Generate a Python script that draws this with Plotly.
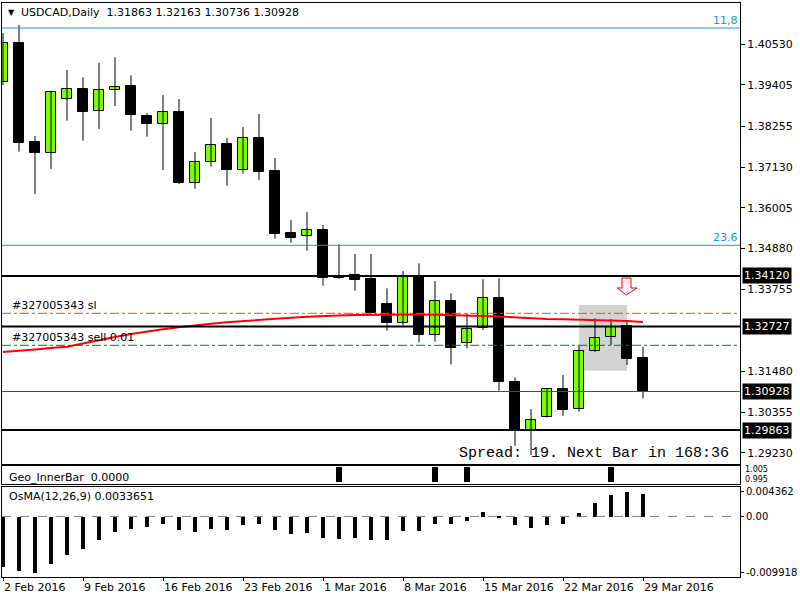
import plotly.graph_objects as go

# ---------------- data ----------------
bars = list(range(41))
date_ticks = [0, 5, 10, 15, 20, 25, 30, 35, 40]
date_labels = ["2 Feb 2016", "9 Feb 2016", "16 Feb 2016", "23 Feb 2016", "1 Mar 2016",
               "8 Mar 2016", "15 Mar 2016", "22 Mar 2016", "29 Mar 2016"]

opens = [1.39472, 1.40549, 1.37822, 1.37527, 1.39002, 1.39278, 1.38679, 1.39251, 1.39361, 1.38532,
         1.38328, 1.38643, 1.36698, 1.37261, 1.37767, 1.37057, 1.37925, 1.37021, 1.35300, 1.35233,
         1.35391, 1.34073, 1.34147, 1.34037, 1.33346, 1.32813, 1.34092, 1.32490, 1.33437, 1.32260,
         1.32675, 1.33504, 1.31183, 1.29837, 1.30224, 1.30998, 1.30445, 1.32048, 1.32426, 1.32747,
         1.31863]
highs = [1.40834, 1.41055, 1.37988, 1.39210, 1.39812, 1.39610, 1.40013, 1.40163, 1.39665, 1.38624,
         1.39121, 1.39010, 1.37546, 1.38485, 1.37933, 1.38237, 1.38596, 1.37380, 1.35667, 1.35888,
         1.35529, 1.35004, 1.34728, 1.34728, 1.33780, 1.34258, 1.34471, 1.33982, 1.33642, 1.33089,
         1.34029, 1.34056, 1.31321, 1.30445, 1.31025, 1.31384, 1.32205, 1.32951, 1.32924, 1.32857,
         1.32163]
lows = [1.39397, 1.37554, 1.36386, 1.37076, 1.38411, 1.37858, 1.38181, 1.38817, 1.38134, 1.37969,
        1.37049, 1.36662, 1.36532, 1.37140, 1.36615, 1.36946, 1.36772, 1.35150, 1.35040, 1.34819,
        1.33852, 1.34037, 1.33714, 1.33084, 1.32609, 1.32752, 1.32288, 1.32305, 1.31680, 1.32122,
        1.32628, 1.30951, 1.29431, 1.29174, 1.30210, 1.30260, 1.30370, 1.32020, 1.32213, 1.31661,
        1.30736]
closes = [1.40549, 1.37803, 1.37527, 1.39196, 1.39278, 1.38659, 1.39259, 1.39350, 1.38577, 1.38320,
          1.38643, 1.36698, 1.37261, 1.37731, 1.37057, 1.37925, 1.37002, 1.35289, 1.35178, 1.35383,
          1.34073, 1.34128, 1.34009, 1.33106, 1.32813, 1.34092, 1.32490, 1.33437, 1.32122, 1.32664,
          1.33504, 1.31183, 1.29837, 1.30133, 1.30998, 1.30426, 1.32048, 1.32399, 1.32719, 1.31818,
          1.30928]
ma = [1.32020, 1.32048, 1.32089, 1.32131, 1.32166, 1.32255, 1.32352, 1.32434, 1.32517, 1.32586,
      1.32647, 1.32702, 1.32758, 1.32799, 1.32841, 1.32876, 1.32904, 1.32937, 1.32968, 1.32995,
      1.33020, 1.33031, 1.33042, 1.33048, 1.33053, 1.33056, 1.33053, 1.33048, 1.33042, 1.33028,
      1.33015, 1.33001, 1.32973, 1.32951, 1.32932, 1.32923, 1.32915, 1.32904, 1.32896, 1.32876,
      1.32849]
osma = [-0.00887, -0.00957, -0.009918, -0.00839, -0.00675, -0.00575, -0.00416, -0.00270, -0.00222, -0.00182,
        -0.00129, -0.00240, -0.00270, -0.00222, -0.00240, -0.00152, -0.00129, -0.00240, -0.00310, -0.00287,
        -0.00381, -0.00398, -0.00381, -0.00416, -0.00416, -0.00257, -0.00257, -0.00129, -0.00129, -0.00069,
        0.00083, -0.00030, -0.00152, -0.00199, -0.00152, -0.00129, 0.00065, 0.00242, 0.00390, 0.0043624,
        0.00400]
inner_bar = [0] * 21 + [1] + [0] * 5 + [1, 0, 1] + [0] * 8 + [1, 0, 0]

price_ticks = [1.40530, 1.39405, 1.38255, 1.37130, 1.36005, 1.34880, 1.33755, 1.31480, 1.30355, 1.29230]
support_levels = [1.34120, 1.32727, 1.29863]
bid_level = 1.30928
highlight_levels = [1.34120, 1.32727, 1.30928, 1.29863]
fib_levels = [("11,8", 1.40972), ("23.6", 1.34968)]
order_id = 327005343
sl_level = 1.33089
entry_level = 1.32205
box_bars = (36, 39)
box_prices = (1.31503, 1.33319)
signal_bar = 39
osma_ticks = [0.0043624, 0.0, -0.009918]
osma_ticktext = ["0.004362", "0.00", "-0.009918"]
geo_scale_labels = ["1.005", "0.995"]
title_text = "USDCAD,Daily  1.31863 1.32163 1.30736 1.30928"

# ---------------- styling ----------------
FONT = "DejaVu Sans"
BULL = "#7CFC00"
XR = [-0.0625, 46.0625]

fig = go.Figure()

# wicks
wx, wy = [], []
for i, h, l in zip(bars, highs, lows):
    wx += [i, i, None]
    wy += [l, h, None]
fig.add_trace(go.Scatter(x=wx, y=wy, mode="lines", line=dict(color="black", width=1),
                         hoverinfo="skip", showlegend=False, xaxis="x", yaxis="y"))
# bodies
fig.add_trace(go.Bar(
    x=bars,
    y=[max(abs(c - o), 0.00002) for o, c in zip(opens, closes)],
    base=[min(o, c) for o, c in zip(opens, closes)],
    width=0.64,
    marker=dict(color=[BULL if c >= o else "black" for o, c in zip(opens, closes)],
                line=dict(color="black", width=1)),
    showlegend=False, xaxis="x", yaxis="y"))
# moving average
fig.add_trace(go.Scatter(x=bars, y=ma, mode="lines", line=dict(color="#FF0000", width=2),
                         showlegend=False, xaxis="x", yaxis="y"))

# Geo_InnerBar
fig.add_trace(go.Bar(x=bars, y=inner_bar, width=0.32, marker=dict(color="black", line=dict(width=0)),
                     showlegend=False, xaxis="x2", yaxis="y2"))
# OsMA
fig.add_trace(go.Bar(x=bars, y=osma, width=0.2, marker=dict(color="black", line=dict(width=0)),
                     showlegend=False, xaxis="x3", yaxis="y3"))

shapes = []
# highlight rectangle
shapes.append(dict(type="rect", xref="x", yref="y", x0=box_bars[0], x1=box_bars[1],
                   y0=box_prices[0], y1=box_prices[1], fillcolor="#D3D3D3",
                   line=dict(width=0), layer="below"))
for lbl, v in fib_levels:
    shapes.append(dict(type="line", xref="paper", yref="y", x0=0, x1=1, y0=v, y1=v,
                       line=dict(color="#1E90FF", width=1)))
shapes.append(dict(type="line", xref="paper", yref="y", x0=0, x1=1, y0=sl_level, y1=sl_level,
                   line=dict(color="#FF4500", width=1, dash="dashdot")))
shapes.append(dict(type="line", xref="paper", yref="y", x0=0, x1=1, y0=entry_level, y1=entry_level,
                   line=dict(color="#008000", width=1, dash="dashdot")))
shapes.append(dict(type="line", xref="paper", yref="y", x0=0, x1=1, y0=bid_level, y1=bid_level,
                   line=dict(color="#FF0000", width=1)))
for v in support_levels:
    shapes.append(dict(type="line", xref="paper", yref="y", x0=0, x1=1, y0=v, y1=v,
                       line=dict(color="black", width=2)))
# signal arrow
shapes.append(dict(type="path", xref="x", yref="y", xsizemode="pixel", ysizemode="pixel",
                   xanchor=signal_bar, yanchor=support_levels[0],
                   path="M-5,-2 L4,-2 L4,-12 L10,-12 L-0.5,-19 L-10,-12 L-5,-12 Z",
                   line=dict(color="#FF0000", width=1), fillcolor="#FFF0F3"))
# OsMA zero line
shapes.append(dict(type="line", xref="paper", yref="y3", x0=0, x1=1, y0=0, y1=0,
                   line=dict(color="#808080", width=1, dash="dash")))

ann = []
ann.append(dict(xref="paper", yref="paper", x=0.0122, y=0.9843, text="▼", showarrow=False,
                xanchor="center", yanchor="middle", font=dict(family=FONT, size=8, color="black")))
ann.append(dict(xref="paper", yref="paper", x=0.0230, y=0.9843, text=title_text, showarrow=False,
                xanchor="left", yanchor="middle", font=dict(family=FONT, size=11, color="black")))
for lbl, v in fib_levels:
    ann.append(dict(xref="paper", yref="y", x=0.9986, y=v, text=lbl, showarrow=False,
                    xanchor="right", yanchor="bottom", borderpad=0, font=dict(family=FONT, size=11, color="#1E90FF")))
ann.append(dict(xref="paper", yref="y", x=0.0122, y=sl_level, text=f"#{order_id} sl", showarrow=False,
                xanchor="left", yanchor="bottom", borderpad=0, font=dict(family=FONT, size=11, color="black")))
ann.append(dict(xref="paper", yref="y", x=0.0122, y=entry_level, text=f"#{order_id} sell 0.01", showarrow=False,
                xanchor="left", yanchor="bottom", borderpad=0, font=dict(family=FONT, size=11, color="black")))
for v in highlight_levels:
    ann.append(dict(xref="paper", yref="y", x=1.0, y=v, text=f"{v:.5f}", showarrow=False,
                    xanchor="left", yanchor="middle", xshift=2, bgcolor="black", borderpad=1,
                    font=dict(family=FONT, size=11, color="white")))
ann.append(dict(xref="paper", yref="paper", x=0.9878, y=0.2143, text="Spread: 19. Next Bar in 168:36",
                showarrow=False, xanchor="right", yanchor="middle",
                font=dict(family="Liberation Mono", size=15, color="black")))
ann.append(dict(xref="paper", yref="paper", x=0.0068, y=0.1742, text="Geo_InnerBar  0.0000",
                showarrow=False, xanchor="left", yanchor="middle", font=dict(family=FONT, size=11, color="black")))
ann.append(dict(xref="paper", yref="paper", x=0.0068, y=0.1394, text=f"OsMA(12,26,9) {0.0033651:.7f}",
                showarrow=False, xanchor="left", yanchor="middle", font=dict(family=FONT, size=11, color="black")))
ann.append(dict(xref="paper", yref="paper", x=1.0, y=0.1870, text=geo_scale_labels[0], showarrow=False,
                xshift=4, xanchor="left", yanchor="middle", borderpad=0,
                font=dict(family=FONT, size=8, color="black")))
ann.append(dict(xref="paper", yref="paper", x=1.0, y=0.1700, text=geo_scale_labels[1], showarrow=False,
                xshift=4, xanchor="left", yanchor="middle", borderpad=0,
                font=dict(family=FONT, size=8, color="black")))

frame = dict(showline=True, mirror=True, linecolor="black", linewidth=1, showgrid=False,
             zeroline=False, automargin=False)

fig.update_layout(
    width=800, height=600,
    margin=dict(l=2, r=60, t=3, b=23, autoexpand=False),
    paper_bgcolor="white", plot_bgcolor="white",
    showlegend=False, bargap=0,
    font=dict(family=FONT, size=11, color="black"),
    xaxis=dict(domain=[0, 1], range=XR, anchor="y", showticklabels=False, ticks="", **frame),
    yaxis=dict(domain=[0.19686, 1], range=[1.28925, 1.41663], side="right",
               tickvals=price_ticks, ticktext=[f"{v:.5f}" for v in price_ticks],
               ticks="outside", ticklen=4, tickcolor="black", **frame),
    xaxis2=dict(domain=[0, 1], range=XR, anchor="y2", showticklabels=False, ticks="", **frame),
    yaxis2=dict(domain=[0.16202, 0.19251], range=[-0.084, 1.052], side="right",
                showticklabels=False, ticks="", **frame),
    xaxis3=dict(domain=[0, 1], range=XR, anchor="y3", tickvals=date_ticks, ticktext=date_labels,
                ticks="outside", ticklen=3, tickcolor="black", ticklabelposition="outside right", **frame),
    yaxis3=dict(domain=[0, 0.15732], range=[-0.010684, 0.005236], side="right",
                tickvals=osma_ticks, ticktext=osma_ticktext, tickfont=dict(size=10),
                ticks="outside", ticklen=3, tickcolor="black", **frame),
    shapes=shapes, annotations=ann,
)

fig.write_html("out.html")
